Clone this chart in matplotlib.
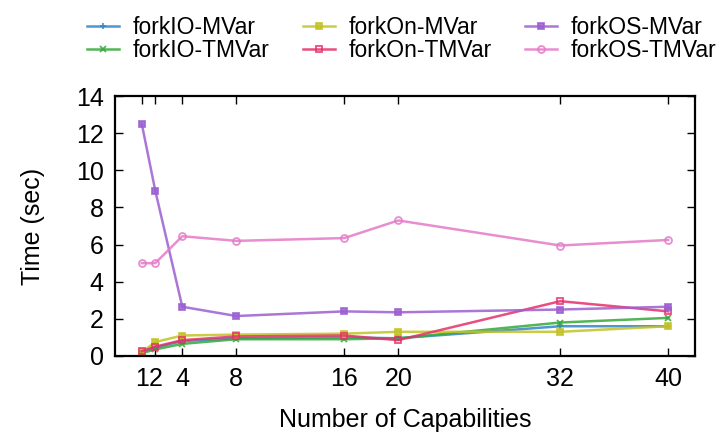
import matplotlib
matplotlib.use("Agg")
import matplotlib.pyplot as plt

plt.rcParams["font.family"] = ["Liberation Sans", "DejaVu Sans"]

# Number of capabilities and measured run times (sec)
caps = [1, 2, 4, 8, 16, 20, 32, 40]
tick_labels = ["1", "2", "4", "8", "16", "20", "32", "40"]

forkio_mvar = [0.20, 0.45, 0.80, 0.95, 1.00, 0.95, 1.60, 1.60]
forkio_tmvar = [0.15, 0.35, 0.65, 0.90, 0.90, 0.95, 1.80, 2.05]
forkon_mvar = [0.20, 0.75, 1.10, 1.15, 1.20, 1.30, 1.30, 1.60]
forkon_tmvar = [0.25, 0.50, 0.85, 1.05, 1.10, 0.85, 2.95, 2.40]
forkos_mvar = [12.50, 8.90, 2.65, 2.15, 2.40, 2.35, 2.50, 2.65]
forkos_tmvar = [5.00, 5.00, 6.45, 6.20, 6.35, 7.30, 5.95, 6.25]

series = [
    ("forkIO-MVar", forkio_mvar, "#2f86c8", "+", "full"),
    ("forkIO-TMVar", forkio_tmvar, "#35a83a", "x", "full"),
    ("forkOn-MVar", forkon_mvar, "#c2c226", "s", "full"),
    ("forkOn-TMVar", forkon_tmvar, "#e5306a", "s", "none"),
    ("forkOS-MVar", forkos_mvar, "#9b5fd0", "s", "full"),
    ("forkOS-TMVar", forkos_tmvar, "#e47ac8", "o", "none"),
]

fig = plt.figure(figsize=(7.22, 4.33), dpi=100)
ax = fig.add_axes([0.159, 0.178, 0.804, 0.600])

for name, vals, color, marker, fill in series:
    ax.plot(caps, vals, color=color, marker=marker, fillstyle=fill,
            markersize=5, markeredgewidth=1.3, linewidth=1.8, alpha=0.85,
            label=name)

ax.set_xlim(-1, 42)
ax.set_ylim(0, 14)
ax.set_xticks(caps)
ax.set_xticklabels(tick_labels)
ax.set_yticks(range(0, 15, 2))

ax.tick_params(direction="in", top=True, right=True, length=6, width=1,
               labelsize=18, pad=8)
for sp in ax.spines.values():
    sp.set_linewidth(1.6)

ax.set_xlabel("Number of Capabilities", fontsize=18, labelpad=12)
ax.set_ylabel("Time (sec)", fontsize=18, labelpad=22)

fig.legend(loc="upper left", bbox_to_anchor=(87 / 722, 1 - 16 / 433),
           ncol=3, frameon=False, fontsize=16.5, handlelength=1.4,
           columnspacing=1.45, labelspacing=0.02, handletextpad=0.6,
           borderpad=0, borderaxespad=0)

fig.savefig("out.png", dpi=100)
